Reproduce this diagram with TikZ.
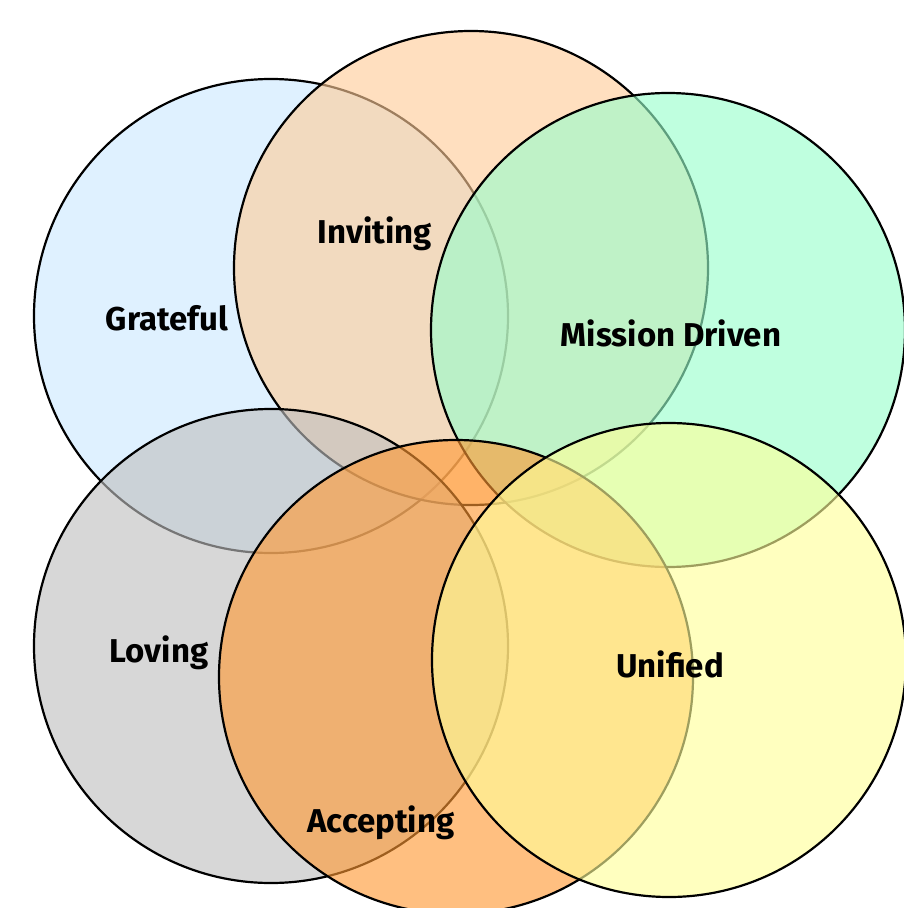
\documentclass[tikz,border=0pt]{standalone}
\usepackage{fontspec}
\setmainfont{Fira Sans}
\definecolor{skyfill}{RGB}{204,234,255}
\definecolor{peachfill}{RGB}{255,204,153}
\definecolor{mintfill}{RGB}{153,255,204}
\definecolor{greyfill}{RGB}{192,192,192}
\definecolor{orangefill}{RGB}{255,153,51}
\definecolor{lemonfill}{RGB}{255,255,153}
\begin{document}
\begin{tikzpicture}[x=1pt,y=-1pt,
  ring/.style={circle, draw=black, line width=2.2pt, fill opacity=0.62,
    draw opacity=1, minimum size=474pt, inner sep=0pt},
  tag/.style={font=\fontsize{33}{36}\selectfont\bfseries, anchor=base,
    inner sep=0pt}]
  % page area
  \fill[white] (0,0) rectangle (903,908);
  \useasboundingbox (0,0) rectangle (903,908);

  % circles, back to front
  \node[ring, fill=skyfill]    (grateful) at (271,316) {};
  \node[ring, fill=peachfill]  (inviting) at (471,268) {};
  \node[ring, fill=mintfill]   (mission)  at (668,330) {};
  \node[ring, fill=greyfill]   (loving)   at (271,646) {};
  \node[ring, fill=orangefill] (accepting) at (456,677) {};
  \node[ring, fill=lemonfill]  (unified)  at (669,660) {};

  % labels
  \node[tag] (tgrateful)  at (167,330) {Grateful};
  \node[tag] (tinviting)  at (375,243) {Inviting};
  \node[tag] (tmission)   at (671,346) {Mission Driven};
  \node[tag] (tloving)    at (159,662) {Loving};
  \node[tag] (taccepting) at (381,832) {Accepting};
  \node[tag] (tunified)   at (670,677) {Unified};
\end{tikzpicture}
\end{document}
